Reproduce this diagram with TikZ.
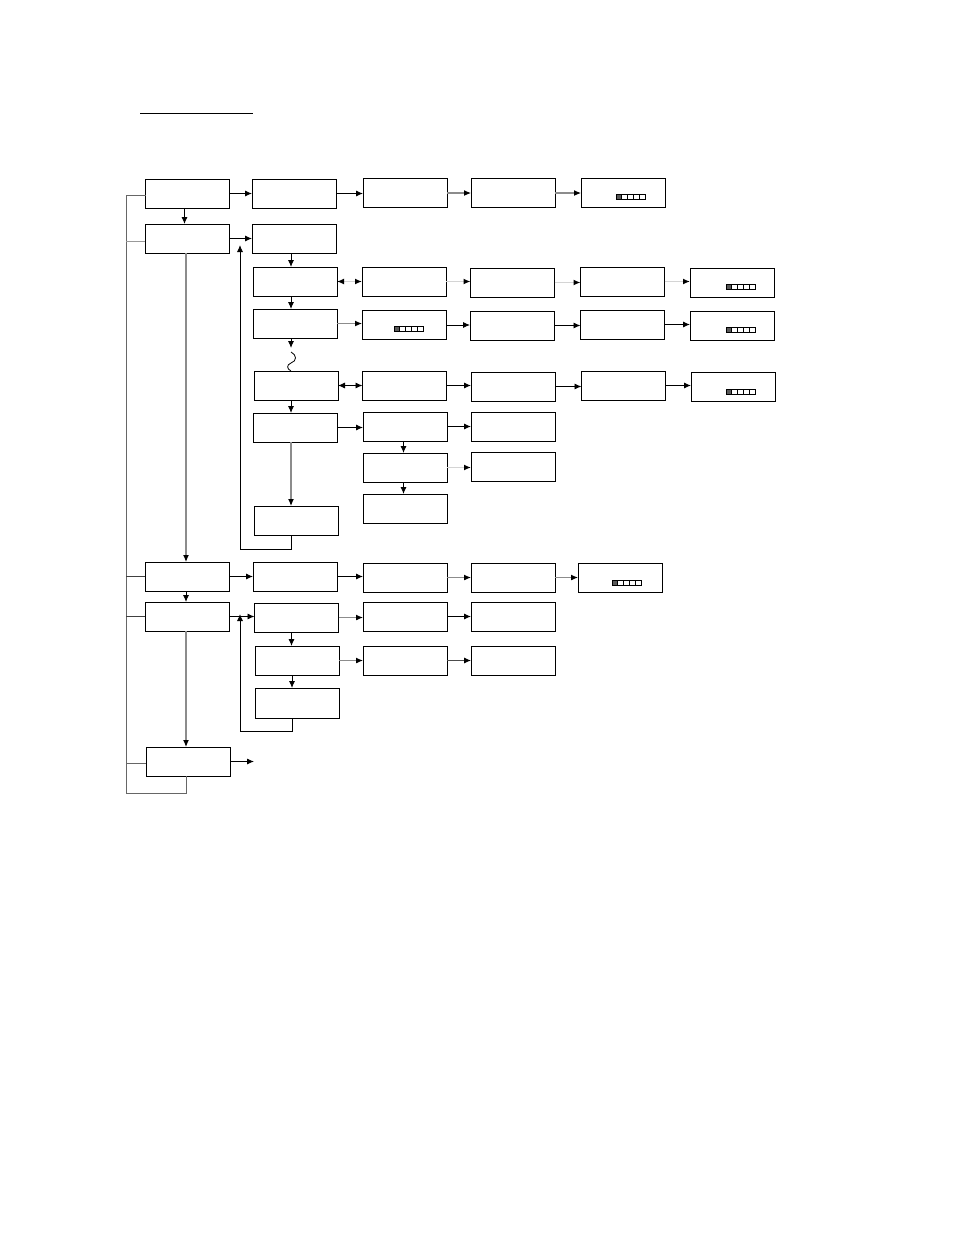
\documentclass[tikz,border=0pt]{standalone}
\usetikzlibrary{arrows.meta}
\tikzset{
  box/.style={draw, line width=0.9pt, minimum width=84pt, minimum height=29pt, inner sep=0pt, outer sep=0pt},
  arr/.style={line width=0.9pt, -{Latex[length=7pt,width=6pt,color=black]}},
  darr/.style={line width=0.9pt, {Latex[length=7pt,width=6pt,color=black]}-{Latex[length=7pt,width=6pt,color=black]}},
  lg/.style={draw=black!17, line width=1.4pt},
  mg/.style={draw=black!45, line width=1.1pt},
  bus/.style={line width=1pt, draw=black!60},
  gauge/.pic={
    \fill[black!65] (0,0) rectangle (5.8,5.5);
    \draw[line width=0.7pt] (0,0) rectangle (29,5.5);
    \foreach \i in {1,2,3,4}{\draw[line width=0.7pt] ({5.8*\i},0) -- ({5.8*\i},5.5);}
  }
}
\begin{document}
\begin{tikzpicture}[x=1pt,y=-1pt]
\useasboundingbox (0,0) rectangle (954,1235);
% title underline
\draw[line width=1.6pt] (140,113.5) -- (253,113.5);
% column A
\node[box] (A1) at (187.5,193.5) {};
\node[box] (A2) at (187,238.5) {};
\node[box] (A3) at (187,576.5) {};
\node[box] (A4) at (187,616.5) {};
\node[box] (A5) at (188,761.5) {};
% column B
\node[box] (B1) at (294,193.5) {};
\node[box] (B2) at (294,238.5) {};
\node[box] (B3) at (295,281.5) {};
\node[box] (B4) at (295,323.5) {};
\node[box] (B5) at (296,385.5) {};
\node[box] (B6) at (295,427.5) {};
\node[box] (B7) at (296,520.5) {};
\node[box] (B8) at (295,576.5) {};
\node[box] (B9) at (296.5,617.5) {};
\node[box] (B10) at (297,660.5) {};
\node[box,minimum height=30pt] (B11) at (297,703) {};
% column C
\node[box] (C1) at (405,193) {};
\node[box] (C3) at (404,281.5) {};
\node[box] (C4) at (404,325) {};
\node[box] (C5) at (404.5,385.5) {};
\node[box] (C6) at (405,426.5) {};
\node[box] (C7) at (405,467.5) {};
\node[box] (C8) at (405,508.5) {};
\node[box] (C9) at (405,577.5) {};
\node[box] (C10) at (405,616.5) {};
\node[box] (C11) at (405,660.5) {};
% column D
\node[box] (D1) at (513,193) {};
\node[box] (D3) at (512.5,282.5) {};
\node[box] (D4) at (512,325.5) {};
\node[box] (D5) at (513,386.5) {};
\node[box] (D6) at (513,426.5) {};
\node[box] (D7) at (513,466.5) {};
\node[box] (D9) at (513,577.5) {};
\node[box] (D10) at (513,616.5) {};
\node[box] (D11) at (513,660.5) {};
% column E
\node[box] (E1) at (623,193) {};
\node[box] (E3) at (622.5,281.5) {};
\node[box] (E4) at (622.5,324.5) {};
\node[box] (E5) at (623.5,385.5) {};
\node[box] (E9) at (620,577.5) {};
% column F
\node[box] (F3) at (732,282.5) {};
\node[box] (F4) at (732,325.5) {};
\node[box] (F5) at (733,386.5) {};
% gauges
\pic at ([shift={(-7,1)}]E1.center) {gauge};
\pic at ([shift={(-6,1.5)}]F3.center) {gauge};
\pic at ([shift={(-10,1)}]C4.center) {gauge};
\pic at ([shift={(-6,1.5)}]F4.center) {gauge};
\pic at ([shift={(-7,2.5)}]F5.center) {gauge};
\pic at ([shift={(-8,2.5)}]E9.center) {gauge};
% row 1
\draw[arr] (A1.east) -- (A1.east -| B1.west);
\draw[arr] (B1.east) -- (B1.east -| C1.west);
\draw[arr,mg] (C1.east) -- (C1.east -| D1.west);
\draw[arr,mg] (D1.east) -- (D1.east -| E1.west);
\draw[arr] ([xshift=-3pt]A1.south) -- ([xshift=-3pt]A1.south |- A2.north);
% row 2
\draw[arr] (A2.east) -- (A2.east -| B2.west);
\draw[arr] ([xshift=-3pt]B2.south) -- ([xshift=-3pt]B2.south |- B3.north);
% row 3
\draw[darr,lg] (B3.east) -- (B3.east -| C3.west);
\draw[arr,lg] (C3.east) -- (C3.east -| D3.west);
\draw[arr,lg] (D3.east) -- (D3.east -| E3.west);
\draw[arr,lg] (E3.east) -- (E3.east -| F3.west);
\draw[arr] ([xshift=-4pt]B3.south) -- ([xshift=-4pt]B3.south |- B4.north);
% row 4
\draw[arr,mg] (B4.east) -- (B4.east -| C4.west);
\draw[arr] (C4.east) -- (C4.east -| D4.west);
\draw[arr] (D4.east) -- (D4.east -| E4.west);
\draw[arr] (E4.east) -- (E4.east -| F4.west);
\coordinate (sqA) at (291,348);
\coordinate (sqB) at (291,352);
\draw[arr] ([xshift=-4pt]B4.south) -- (sqA);
\draw[line width=0.8pt] (sqB) .. controls (297,355) and (297,361) .. (291,363) .. controls (286,365) and (287,369) .. ([xshift=-5pt]B5.north);
% row 5
\draw[darr] (B5.east) -- (B5.east -| C5.west);
\draw[arr] (C5.east) -- (C5.east -| D5.west);
\draw[arr] (D5.east) -- (D5.east -| E5.west);
\draw[arr] (E5.east) -- (E5.east -| F5.west);
\draw[arr] ([xshift=-5pt]B5.south) -- ([xshift=-5pt]B5.south |- B6.north);
% row 6
\draw[arr] (B6.east) -- (B6.east -| C6.west);
\draw[arr] (C6.east) -- (C6.east -| D6.west);
\draw[arr] ([xshift=-1.5pt]C6.south) -- ([xshift=-1.5pt]C6.south |- C7.north);
\draw[arr,lg] (C7.east) -- (C7.east -| D7.west);
\draw[arr] ([xshift=-1.5pt]C7.south) -- ([xshift=-1.5pt]C7.south |- C8.north);
\draw[arr,mg] ([xshift=-4pt]B6.south) -- ([xshift=-4pt]B6.south |- B7.north);
% return loop 1
\coordinate (ret1) at (240,245);
\draw[arr] ([xshift=-5pt]B7.south) -- ++(0,14) -| (ret1);
% A2 down to A3
\draw[arr,mg] ([xshift=-1pt]A2.south) -- ([xshift=-1pt]A2.south |- A3.north);
% row 8
\draw[arr] (A3.east) -- (A3.east -| B8.west);
\draw[arr] (B8.east) -- (B8.east -| C9.west);
\draw[arr,mg] (C9.east) -- (C9.east -| D9.west);
\draw[arr,mg] (D9.east) -- (D9.east -| E9.west);
\draw[arr] ([xshift=-1pt]A3.south) -- ([xshift=-1pt]A3.south |- A4.north);
% row 9
\draw[arr] (A4.east) -- (A4.east -| B9.west);
\draw[arr,mg] (B9.east) -- (B9.east -| C10.west);
\draw[arr] (C10.east) -- (C10.east -| D10.west);
\draw[arr] ([xshift=-5pt]B9.south) -- ([xshift=-5pt]B9.south |- B10.north);
% row 10
\draw[arr,mg] (B10.east) -- (B10.east -| C11.west);
\draw[arr,draw=black!70] (C11.east) -- (C11.east -| D11.west);
\draw[arr] ([xshift=-5pt]B10.south) -- ([xshift=-5pt]B10.south |- B11.north);
% return loop 2
\coordinate (ret2) at (240,614);
\draw[arr] ([xshift=-5pt]B11.south) -- ++(0,13) -| (ret2);
% A4 down to A5
\draw[arr,mg] ([xshift=-1pt]A4.south) -- ([xshift=-1pt]A4.south |- A5.north);
% A5 out
\coordinate (out5) at (254,761.5);
\draw[arr] (A5.east) -- (out5);
% left bus
\coordinate (busT) at (126,195);
\coordinate (busB) at (126,793);
\draw[bus] ([shift={(0,1.5)}]A1.west) -- (busT) -- (busB) -| ([xshift=-2pt]A5.south);
\draw[bus,draw=black!40] ([shift={(0,3)}]A2.west) -- ([shift={(0,3)}]A2.west -| busT);
\draw[bus,draw=black!75] (A3.west) -- (A3.west -| busT);
\draw[bus,draw=black!75] (A4.west) -- (A4.west -| busT);
\draw[bus] ([shift={(0,1.5)}]A5.west) -- ([shift={(0,1.5)}]A5.west -| busT);
\end{tikzpicture}
\end{document}
